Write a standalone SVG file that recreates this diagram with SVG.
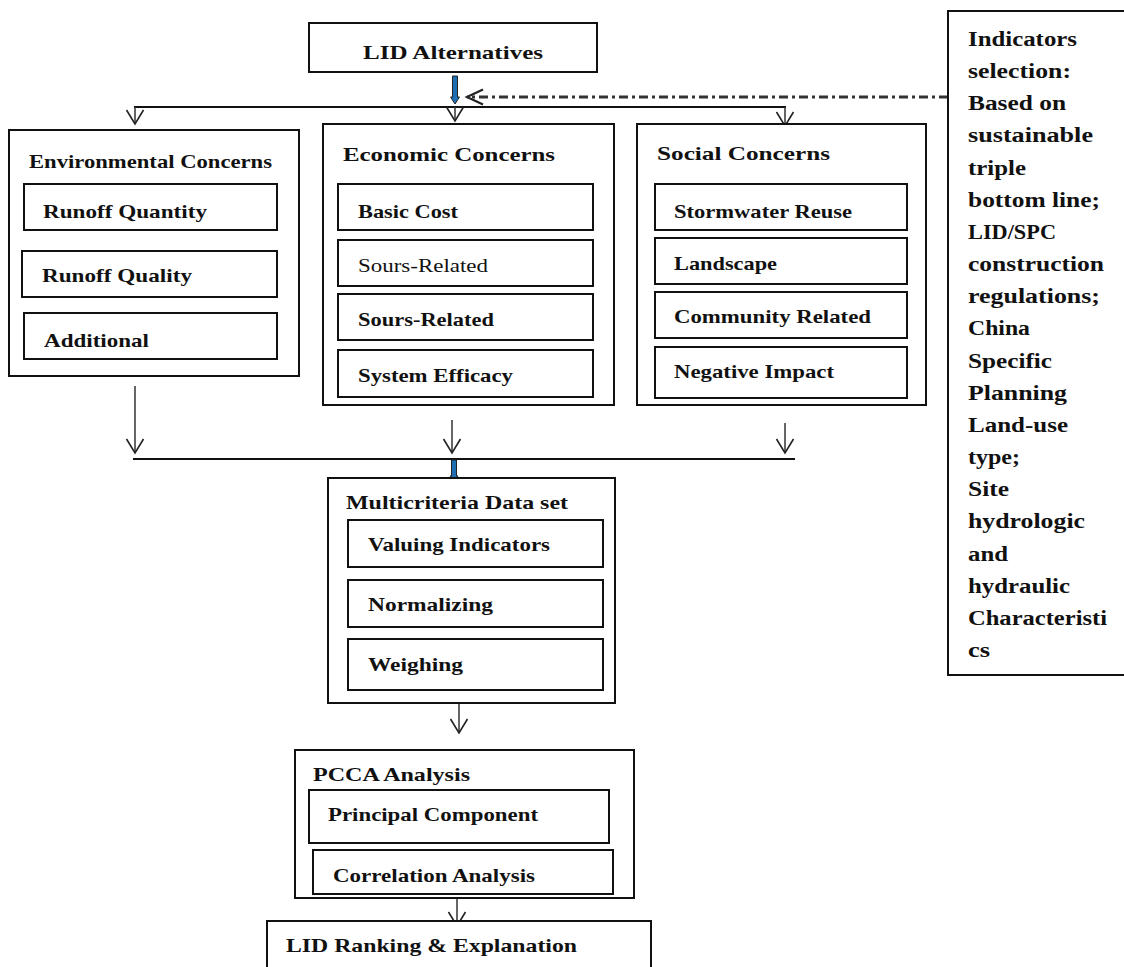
<svg xmlns="http://www.w3.org/2000/svg" width="1124" height="967" viewBox="0 0 1124 967">
<defs>
<style>
.box{fill:#fff;stroke:#111;stroke-width:2}
.t{font-family:"Liberation Serif","Times New Roman",serif;font-weight:bold;font-size:19.5px;fill:#111}
.n{font-weight:normal}
.r{font-family:"Liberation Serif","Times New Roman",serif;font-weight:bold;font-size:20.5px;fill:#111}
.ln{fill:none;stroke:#111;stroke-width:2}
.ar{fill:none;stroke:#333;stroke-width:1.5}
.blue{fill:#1f6fb5;stroke:#222;stroke-width:1}
.dd{fill:none;stroke:#333;stroke-width:3;stroke-dasharray:9,4,3,4}
</style>
<marker id="v" markerUnits="userSpaceOnUse" markerWidth="20" markerHeight="20" refX="0" refY="0" viewBox="-16 -10 18 20" orient="auto" overflow="visible">
<path d="M-14,-8.5 L0,0 L-14,8.5" fill="none" stroke="#222" stroke-width="1.6"/>
</marker>
<marker id="vb" markerUnits="userSpaceOnUse" markerWidth="20" markerHeight="20" refX="0" refY="0" viewBox="-18 -10 20 20" orient="auto" overflow="visible">
<path d="M-16,-7.5 L0,0 L-16,7.5" fill="none" stroke="#222" stroke-width="2.2"/>
</marker>
</defs>
<rect width="1124" height="967" fill="#fff"/>

<g id="connectors">
<path class="blue" d="M452.5,76 H457.5 V97 H459.5 L455,104 L450.5,97 H452.5 Z"/>
<line class="ln" x1="134" y1="107" x2="786" y2="107"/>
<line class="ar" x1="135" y1="107" x2="135" y2="124" marker-end="url(#v)"/>
<line class="ar" x1="455" y1="107" x2="455" y2="121" marker-end="url(#v)"/>
<line class="ar" x1="785" y1="107" x2="785" y2="126" marker-end="url(#v)"/>
<line class="dd" x1="948" y1="97" x2="467" y2="97" marker-end="url(#vb)"/>
<line class="ar" x1="135" y1="386" x2="135" y2="453" marker-end="url(#v)"/>
<line class="ar" x1="452" y1="420" x2="452" y2="453" marker-end="url(#v)"/>
<line class="ar" x1="785" y1="423" x2="785" y2="453" marker-end="url(#v)"/>
<line class="ln" x1="133" y1="459" x2="795" y2="459"/>
<path class="blue" d="M451.5,460 H456.5 V476 H458 L454,482 L450,476 H451.5 Z"/>
<line class="ar" x1="459" y1="703" x2="459" y2="733" marker-end="url(#v)"/>
<line class="ar" x1="457" y1="894" x2="457" y2="926" marker-end="url(#v)"/>
</g>

<g id="lid-alternatives">
<rect class="box" x="309" y="23" width="288" height="49"/>
<text class="t" x="363" y="59" textLength="180" lengthAdjust="spacingAndGlyphs">LID Alternatives</text>
</g>

<g id="environmental">
<rect class="box" x="9" y="130" width="290" height="246"/>
<text class="t" x="29" y="168" textLength="243" lengthAdjust="spacingAndGlyphs">Environmental Concerns</text>
<rect class="box" x="24" y="184" width="253" height="46"/>
<text class="t" x="43" y="218" textLength="164" lengthAdjust="spacingAndGlyphs">Runoff Quantity</text>
<rect class="box" x="22" y="251" width="255" height="46"/>
<text class="t" x="42" y="282" textLength="150" lengthAdjust="spacingAndGlyphs">Runoff Quality</text>
<rect class="box" x="24" y="313" width="253" height="46"/>
<text class="t" x="44" y="347" textLength="105" lengthAdjust="spacingAndGlyphs">Additional</text>
</g>

<g id="economic">
<rect class="box" x="323" y="124" width="291" height="281"/>
<text class="t" x="343" y="161" textLength="212" lengthAdjust="spacingAndGlyphs">Economic Concerns</text>
<rect class="box" x="338" y="184" width="255" height="46"/>
<text class="t" x="358" y="218" textLength="100" lengthAdjust="spacingAndGlyphs">Basic Cost</text>
<rect class="box" x="338" y="240" width="255" height="46"/>
<text class="t n" x="358" y="272" textLength="130" lengthAdjust="spacingAndGlyphs">Sours-Related</text>
<rect class="box" x="338" y="294" width="255" height="46"/>
<text class="t" x="358" y="326" textLength="136" lengthAdjust="spacingAndGlyphs">Sours-Related</text>
<rect class="box" x="338" y="350" width="255" height="47"/>
<text class="t" x="358" y="382" textLength="155" lengthAdjust="spacingAndGlyphs">System Efficacy</text>
</g>

<g id="social">
<rect class="box" x="637" y="124" width="289" height="281"/>
<text class="t" x="657" y="160" textLength="173" lengthAdjust="spacingAndGlyphs">Social Concerns</text>
<rect class="box" x="655" y="184" width="252" height="46"/>
<text class="t" x="674" y="218" textLength="178" lengthAdjust="spacingAndGlyphs">Stormwater Reuse</text>
<rect class="box" x="655" y="238" width="252" height="46"/>
<text class="t" x="674" y="270" textLength="103" lengthAdjust="spacingAndGlyphs">Landscape</text>
<rect class="box" x="655" y="292" width="252" height="46"/>
<text class="t" x="674" y="323" textLength="197" lengthAdjust="spacingAndGlyphs">Community Related</text>
<rect class="box" x="655" y="347" width="252" height="51"/>
<text class="t" x="674" y="378" textLength="160" lengthAdjust="spacingAndGlyphs">Negative Impact</text>
</g>

<g id="multicriteria">
<rect class="box" x="328" y="478" width="287" height="225"/>
<text class="t" x="346" y="509" textLength="222" lengthAdjust="spacingAndGlyphs">Multicriteria Data set</text>
<rect class="box" x="348" y="520" width="255" height="47"/>
<text class="t" x="368" y="551" textLength="182" lengthAdjust="spacingAndGlyphs">Valuing Indicators</text>
<rect class="box" x="348" y="580" width="255" height="47"/>
<text class="t" x="368" y="611" textLength="125" lengthAdjust="spacingAndGlyphs">Normalizing</text>
<rect class="box" x="348" y="639" width="255" height="51"/>
<text class="t" x="368" y="671" textLength="95" lengthAdjust="spacingAndGlyphs">Weighing</text>
</g>

<g id="pcca">
<rect class="box" x="295" y="750" width="339" height="148"/>
<text class="t" x="313" y="781" textLength="157" lengthAdjust="spacingAndGlyphs">PCCA Analysis</text>
<rect class="box" x="309" y="790" width="300" height="53"/>
<text class="t" x="328" y="821" textLength="210" lengthAdjust="spacingAndGlyphs">Principal Component</text>
<rect class="box" x="313" y="850" width="300" height="44"/>
<text class="t" x="333" y="882" textLength="202" lengthAdjust="spacingAndGlyphs">Correlation Analysis</text>
</g>

<g id="lid-ranking">
<rect class="box" x="267" y="921" width="384" height="60"/>
<text class="t" x="286" y="952" textLength="291" lengthAdjust="spacingAndGlyphs">LID Ranking &amp; Explanation</text>
</g>

<g id="indicators-selection">
<rect class="box" x="948" y="11" width="180" height="664"/>
<text class="r" x="968" y="46" textLength="109" lengthAdjust="spacingAndGlyphs">Indicators</text>
<text class="r" x="968" y="78" textLength="103" lengthAdjust="spacingAndGlyphs">selection:</text>
<text class="r" x="968" y="110" textLength="98" lengthAdjust="spacingAndGlyphs">Based on</text>
<text class="r" x="968" y="142" textLength="125" lengthAdjust="spacingAndGlyphs">sustainable</text>
<text class="r" x="968" y="175" textLength="58" lengthAdjust="spacingAndGlyphs">triple</text>
<text class="r" x="968" y="207" textLength="132" lengthAdjust="spacingAndGlyphs">bottom line;</text>
<text class="r" x="968" y="239" textLength="88" lengthAdjust="spacingAndGlyphs">LID/SPC</text>
<text class="r" x="968" y="271" textLength="136" lengthAdjust="spacingAndGlyphs">construction</text>
<text class="r" x="968" y="303" textLength="132" lengthAdjust="spacingAndGlyphs">regulations;</text>
<text class="r" x="968" y="335" textLength="62" lengthAdjust="spacingAndGlyphs">China</text>
<text class="r" x="968" y="368" textLength="84" lengthAdjust="spacingAndGlyphs">Specific</text>
<text class="r" x="968" y="400" textLength="99" lengthAdjust="spacingAndGlyphs">Planning</text>
<text class="r" x="968" y="432" textLength="100" lengthAdjust="spacingAndGlyphs">Land-use</text>
<text class="r" x="968" y="464" textLength="52" lengthAdjust="spacingAndGlyphs">type;</text>
<text class="r" x="968" y="496" textLength="41" lengthAdjust="spacingAndGlyphs">Site</text>
<text class="r" x="968" y="528" textLength="117" lengthAdjust="spacingAndGlyphs">hydrologic</text>
<text class="r" x="968" y="561" textLength="40" lengthAdjust="spacingAndGlyphs">and</text>
<text class="r" x="968" y="593" textLength="102" lengthAdjust="spacingAndGlyphs">hydraulic</text>
<text class="r" x="968" y="625" textLength="139" lengthAdjust="spacingAndGlyphs">Characteristi</text>
<text class="r" x="968" y="657" textLength="22" lengthAdjust="spacingAndGlyphs">cs</text>
</g>
</svg>
